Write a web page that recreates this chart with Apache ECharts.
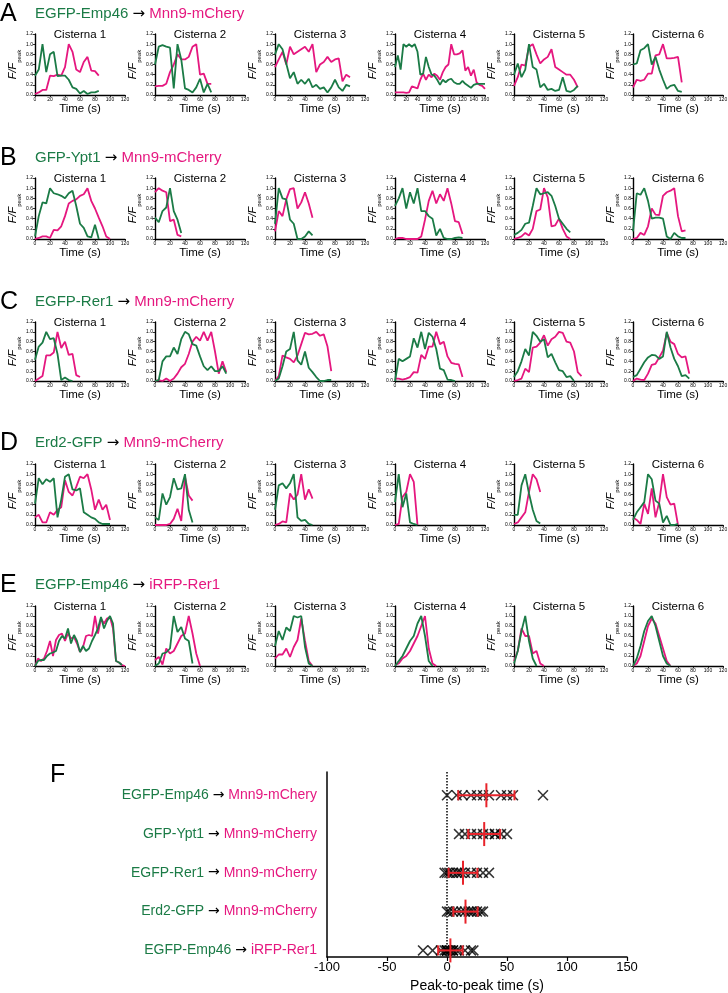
<!DOCTYPE html>
<html><head><meta charset="utf-8">
<script src="https://cdn.jsdelivr.net/npm/echarts@6/dist/echarts.min.js"></script>
<style>html,body{margin:0;padding:0;background:#fff}#c{width:728px;height:993px}</style>
</head><body><div id="c"></div>
<script>
const GREEN = '#1b7b46', MAGENTA = '#e5177f';
const FONT = "'Liberation Sans', Arial, sans-serif";
const ARROW_FONT = "'DejaVu Sans', sans-serif";

// time bases (s)
const t5 = [0,5,10,15,20,25,30,35,40,45,50,55,60,65,70,75,80,85,90,95,100,105,110,115,120,125,130,135,140,145,150,155,160];
const t4 = [0,4,8,12,16,20,24,28,32,36,40,44,48,52,56,60,64,68,72,76,80,84,88,92,96,100,104,108,112,116,120];

const panelLetters = ['A','B','C','D','E'];
const rowGreenNames = ['EGFP-Emp46','GFP-Ypt1','EGFP-Rer1','Erd2-GFP','EGFP-Emp46'];
const rowMagentaNames = ['Mnn9-mChery','Mnn9-mCherry','Mnn9-mCherry','Mnn9-mCherry','iRFP-Rer1'];
const cisternaNames = ['Cisterna 1','Cisterna 2','Cisterna 3','Cisterna 4','Cisterna 5','Cisterna 6'];
const xMaxByRow = [[120,120,120,160,120,120],[120,120,120,120,120,120],[120,120,120,120,120,120],[120,120,120,120,120,120],[120,120,120,120,120,120]];
const timeBaseByRow = [['t5','t5','t5','t5','t5','t5'],['t5','t5','t5','t5','t5','t5'],['t5','t5','t5','t5','t5','t5'],['t5','t5','t5','t5','t5','t5'],['t4','t5','t5','t5','t5','t5']];

// Row A: EGFP-Emp46 -> Mnn9-mChery
const A_green = [
 [0.38,0.5,1.0,0.45,0.8,0.85,0.37,0.38,0.38,0.3,0.15,0.12,0.03,0.08,0.02,0.05,0.05,0.08],
 [0.6,0.95,0.98,0.95,0.93,0.13,1.0,0.7,0.13,0.1,0.05,0.15,0.32,0.05,0.22,0.05],
 [0.8,1.0,0.9,0.62,0.33,0.45,0.22,0.3,0.22,0.32,0.15,0.2,0.12,0.15,0.05,0.15,0.3,0.15,0.08,0.2,0.17],
 [0.55,0.78,0.5,1.0,0.95,1.0,0.95,1.0,0.85,0.4,0.42,0.75,0.55,0.4,0.38,0.3,0.2,0.3,0.25,0.3,0.32,0.25,0.22,0.22,0.28,0.22,0.18,0.14,0.2,0.22,0.22,0.22,0.22],
 [0.4,0.62,0.35,0.5,1.0,0.55,0.5,0.15,0.22,0.1,0.12,0.08,0.1,0.35,0.08,0.06,0.1,0.18],
 [0.6,0.62,0.88,0.92,1.0,0.6,0.75,0.5,0.3,0.12,0.18,0.2,0.08,0.06]
];
const A_magenta = [
 [0.02,0.05,0.1,0.1,0.38,0.37,0.4,0.38,0.55,1.0,0.85,0.5,0.45,0.65,0.75,0.48,0.47,0.38],
 [0.17,0.18,0.18,0.22,0.45,0.6,0.8,0.7,0.7,0.75,0.95,1.0,0.4,0.42,0.22,0.22],
 [0.55,0.7,0.85,0.6,0.95,0.8,0.85,0.9,0.95,0.85,1.0,0.45,0.6,0.65,0.75,0.65,0.7,0.72,0.27,0.4,0.35],
 [0.05,0.05,0.05,0.05,0.04,0.05,0.17,0.15,0.13,0.3,0.42,0.3,0.4,0.35,0.42,0.38,0.3,0.45,0.55,0.6,1.0,0.8,0.8,0.82,0.88,0.48,0.55,0.38,0.5,0.25,0.2,0.18,0.12],
 [0.18,0.35,0.6,0.58,0.95,1.0,0.8,0.62,0.7,0.75,0.9,0.55,0.5,0.45,0.4,0.4,0.3,0.15],
 [0.15,0.3,0.28,0.3,0.42,0.42,0.78,0.8,1.0,0.72,0.72,0.73,0.75,0.25]
];
// Row B: GFP-Ypt1 -> Mnn9-mCherry
const B_green = [
 [0.05,0.45,0.72,0.7,1.0,0.9,0.88,0.85,0.8,0.9,0.95,0.65,0.3,0.22,0.05,0.03,0.28,0.0],
 [0.42,0.33,0.55,0.62,1.0,0.55,0.38,0.12],
 [0.3,1.0,0.8,0.78,0.38,0.3,0.0,0.0,0.05,0.15,0.07],
 [0.65,0.8,1.0,0.6,0.92,0.7,1.0,0.55,0.55,0.45,0.4,0.07,0.2,0.02,0.0,0.0,0.02,0.03,0.02],
 [0.08,0.12,0.18,0.3,0.32,0.65,1.0,0.88,0.9,0.92,0.85,0.65,0.4,0.3,0.2,0.13],
 [0.15,0.9,0.87,1.0,0.75,0.4,0.42,0.42,0.4,0.05,0.0,0.12,0.05,0.02,0.02]
];
const B_magenta = [
 [0.0,0.02,0.05,0.05,0.02,0.18,0.17,0.25,0.45,0.7,0.75,0.78,0.85,0.88,1.0,0.75,0.6,0.42,0.25,0.05,0.0],
 [0.92,1.0,0.95,0.92,0.35,0.38,0.08,0.05],
 [0.15,0.55,0.45,0.78,0.98,1.0,0.6,0.72,0.92,0.7,0.42],
 [0.0,0.02,0.02,0.0,0.0,0.0,0.0,0.05,0.38,0.75,0.95,0.7,0.88,0.75,1.0,0.7,0.35,0.33,0.1],
 [0.0,0.02,0.05,0.12,0.07,0.2,0.55,0.58,1.0,0.82,0.25,0.27,0.4,0.2,0.05,0.0],
 [0.0,0.02,0.12,0.08,0.25,0.6,0.48,0.47,0.85,0.92,0.95,1.0,0.45,0.15,0.17]
];
// Row C: EGFP-Rer1 -> Mnn9-mCherry
const C_green = [
 [0.43,0.7,0.78,1.0,0.85,0.87,0.55,0.02,0.07,0.02,0.0],
 [0.0,0.02,0.4,0.5,0.5,0.68,0.55,0.85,1.0,0.95,0.75,0.72,0.5,0.3,0.22,0.3,0.2,0.2,0.3,0.15],
 [0.0,0.05,0.3,0.6,0.65,1.0,0.42,0.33,0.6,0.27,0.18,0.08,0.0,0.0,0.02,0.02],
 [0.0,0.45,0.4,0.45,0.5,0.87,0.68,1.0,0.65,0.98,0.9,0.65,0.25,0.22,0.03,0.02,0.0],
 [0.08,0.2,0.4,0.65,0.52,1.0,0.92,0.8,0.85,0.48,0.55,0.38,0.22,0.2,0.08,0.1,0.0],
 [0.08,0.12,0.25,0.38,0.48,0.53,0.52,0.45,0.5,1.0,0.68,0.45,0.3,0.1,0.12,0.05]
];
const C_magenta = [
 [0.0,0.05,0.1,0.52,0.52,0.58,1.0,0.67,0.8,0.53,0.55,0.12,0.08],
 [0.0,0.02,0.0,0.05,0.0,0.05,0.15,0.28,0.35,0.55,0.8,0.9,0.82,1.0,0.82,1.0,0.6,0.15,0.4,0.18],
 [0.0,0.1,0.52,0.48,0.45,0.38,0.52,0.75,0.98,0.95,0.96,1.0,0.92,0.95,0.7,0.2],
 [0.05,0.05,0.03,0.05,0.08,0.18,0.17,0.53,0.45,0.7,0.7,1.0,0.75,0.8,0.5,0.37,0.35,0.34,0.08],
 [0.0,0.02,0.05,0.25,0.18,0.68,0.7,0.78,0.93,0.72,0.85,0.9,1.0,0.98,0.8,0.78,0.6,0.18,0.1],
 [0.0,0.05,0.03,0.02,0.15,0.33,0.35,0.48,0.62,0.98,0.8,0.75,0.55,0.48,0.5,0.15]
];
// Row D: Erd2-GFP -> Mnn9-mCherry
const D_green = [
 [0.42,0.92,0.8,0.9,0.85,0.92,0.15,0.5,0.95,1.0,0.7,0.68,0.72,0.25,0.2,0.15,0.12,0.05,0.02,0.02,0.02],
 [0.15,0.1,0.62,0.4,0.55,0.92,0.7,0.72,1.0,0.3,0.05],
 [0.3,0.78,0.82,0.72,0.82,1.0,0.15,0.08,0.1,0.02,0.0],
 [0.45,1.0,0.35,0.62,0.05,0.02,0.0],
 [0.2,0.2,0.78,1.0,0.62,0.3,0.08,0.03],
 [0.1,0.25,0.35,0.45,1.0,0.9,0.48,0.42,0.05,0.18,0.0,0.0,0.02]
];
const D_magenta = [
 [0.15,0.2,0.05,0.05,0.25,0.2,0.3,0.35,0.88,0.65,0.58,0.75,0.95,0.92,1.0,0.7,0.3,0.5,0.3,0.4,0.1],
 [0.0,0.0,0.0,0.0,0.02,0.12,0.32,0.08,0.95,0.58,0.48],
 [0.0,0.02,0.07,0.05,0.62,0.5,0.6,1.0,0.5,0.7,0.52],
 [0.0,0.02,0.55,0.65,1.0,0.85,0.0],
 [0.02,0.05,0.15,0.25,0.65,1.0,0.9,0.65],
 [0.15,0.1,0.02,0.42,0.22,0.72,0.15,0.45,1.0,0.55,0.4,0.42,0.0]
];
// Row E: EGFP-Emp46 -> iRFP-Rer1
const E_green = [
 [0.0,0.1,0.12,0.12,0.2,0.25,0.27,0.3,0.5,0.6,0.55,0.75,0.45,0.62,0.5,0.28,0.4,0.3,0.35,0.5,0.62,0.75,0.98,0.75,0.9,1.0,0.85,0.1,0.07,0.02],
 [0.0,0.05,0.25,0.27,0.35,1.0,0.68,0.78,0.55,0.5,0.05],
 [0.4,0.7,0.52,0.77,0.7,1.0,0.97,1.0,0.38,0.05,0.0],
 [0.0,0.1,0.2,0.35,0.5,0.6,0.85,1.0,0.6,0.1,0.0],
 [0.05,0.3,0.7,1.0,0.5,0.15,0.0],
 [0.0,0.15,0.4,0.7,0.9,1.0,0.8,0.5,0.2,0.05,0.0]
];
const E_magenta = [
 [0.0,0.15,0.1,0.15,0.3,0.5,0.2,0.52,0.62,0.65,0.5,0.65,0.55,0.58,0.45,0.28,0.38,0.6,0.62,0.6,1.0,0.65,0.95,0.85,0.95,0.98,0.75,0.1,0.07,0.02,0.0],
 [0.12,0.18,0.03,0.35,0.25,0.3,0.45,0.6,0.65,1.0,0.65,0.25,0.0],
 [0.15,0.23,0.23,0.35,0.18,0.38,0.52,0.95,0.5,0.1,0.0],
 [0.02,0.05,0.15,0.2,0.3,0.45,0.6,0.8,1.0,0.35,0.05,0.0],
 [0.1,0.3,0.75,0.6,0.6,0.25,0.3,0.05,0.0],
 [0.0,0.05,0.2,0.5,0.8,0.95,0.85,0.6,0.35,0.1,0.0]
];
const rowGreen = [A_green, B_green, C_green, D_green, E_green];
const rowMagenta = [A_magenta, B_magenta, C_magenta, D_magenta, E_magenta];

// Panel F: peak-to-peak times (s)
const F_green = ['EGFP-Emp46','GFP-Ypt1','EGFP-Rer1','Erd2-GFP','EGFP-Emp46'];
const F_magenta = ['Mnn9-mChery','Mnn9-mCherry','Mnn9-mCherry','Mnn9-mCherry','iRFP-Rer1'];
const F_emp46_mnn9 = [0, 8, 13, 20, 25, 30, 35, 45, 50, 55, 80];
const F_ypt1_mnn9 = [10, 15, 20, 25, 30, 35, 40, 40, 45, 50];
const F_rer1_mnn9 = [-2, 0, 2, 5, 8, 10, 12, 15, 20, 25, 30, 35];
const F_erd2_mnn9 = [0, 2, 5, 8, 12, 15, 18, 20, 22, 25, 28, 30];
const F_emp46_rer1 = [-20, -12, -5, -2, 0, 0, 0, 0, 0, 2, 3, 5, 5, 8, 10, 15, 20, 22];
const F_values = [F_emp46_mnn9, F_ypt1_mnn9, F_rer1_mnn9, F_erd2_mnn9, F_emp46_rer1];

// ---------- layout (styling only) ----------
const colLeft = [35, 155, 275, 395, 514, 633];
const rowTop = [34, 178, 322, 464, 606];
const rowH = [61, 61, 59, 61, 60];
const rowTitleY = [14, 158, 302, 443, 585];

const grids = [], xAxes = [], yAxes = [], series = [], graphics = [];
const axisLineStyle = {show: true, onZero: false, lineStyle: {color: '#000', width: 1.4}};
const tbase = {t5, t4};
const titleRich = {
  g: {fill: GREEN, font: '15px ' + FONT},
  k: {fill: '#000', font: '15px ' + ARROW_FONT},
  m: {fill: MAGENTA, font: '15px ' + FONT}
};

rowGreen.forEach((greens, r) => {
  graphics.push({type: 'text', x: 0, y: rowTitleY[r], style: {text: panelLetters[r], font: '25px ' + FONT, fill: '#000', verticalAlign: 'middle', textVerticalAlign: 'middle'}});
  graphics.push({type: 'text', x: 35, y: rowTitleY[r], style: {
    text: '{g|' + rowGreenNames[r] + '} {k|\u2192} {m|' + rowMagentaNames[r] + '}',
    font: '15px ' + FONT, fill: '#000', verticalAlign: 'middle', textVerticalAlign: 'middle', rich: titleRich
  }});
  for (let c = 0; c < 6; c++) {
    const gi = grids.length;
    grids.push({left: colLeft[c], top: rowTop[r], width: 90, height: rowH[r], outerBoundsMode: 'none', containLabel: false});
    xAxes.push({
      gridIndex: gi, type: 'value', min: 0, max: xMaxByRow[r][c], interval: 20,
      axisLine: axisLineStyle, axisTick: {show: true, length: 2, lineStyle: {color: '#000', width: 0.8}},
      axisLabel: {fontSize: 5, margin: 2, color: '#000', fontFamily: FONT, showMaxLabel: true},
      splitLine: {show: false},
      name: 'Time (s)', nameLocation: 'middle', nameGap: 8,
      nameTextStyle: {fontSize: 11.5, color: '#000', fontFamily: FONT}
    });
    yAxes.push({
      gridIndex: gi, type: 'value', min: 0, max: 1.2, interval: 0.2,
      axisLine: axisLineStyle, axisTick: {show: true, length: 2, lineStyle: {color: '#000', width: 0.8}},
      axisLabel: {fontSize: 5, margin: 2, color: '#000', fontFamily: FONT, formatter: v => v.toFixed(1)},
      splitLine: {show: false},
      name: '{a|F/F}{b|peak}', nameLocation: 'middle', nameGap: 11,
      nameTextStyle: {color: '#000', fontFamily: FONT, rich: {
        a: {fontSize: 11, fontStyle: 'italic', fontFamily: FONT, color: '#000', lineHeight: 15, verticalAlign: 'top'},
        b: {fontSize: 6, fontFamily: FONT, color: '#000', lineHeight: 7, verticalAlign: 'bottom'}
      }}
    });
    const times = tbase[timeBaseByRow[r][c]];
    const mag = rowMagenta[r][c], grn = greens[c];
    series.push({type: 'line', xAxisIndex: gi, yAxisIndex: gi, showSymbol: false, symbol: 'none',
      data: mag.map((v, i) => [times[i], v]), lineStyle: {color: MAGENTA, width: 1.8}, itemStyle: {color: MAGENTA}, silent: true});
    series.push({type: 'line', xAxisIndex: gi, yAxisIndex: gi, showSymbol: false, symbol: 'none',
      data: grn.map((v, i) => [times[i], v]), lineStyle: {color: GREEN, width: 1.8}, itemStyle: {color: GREEN}, silent: true});
    graphics.push({type: 'text', x: colLeft[c] + 45, y: rowTop[r] + 1, z: 10, style: {
      text: cisternaNames[c], font: '11.5px ' + FONT, fill: '#000',
      align: 'center', textAlign: 'center', verticalAlign: 'middle', textVerticalAlign: 'middle'}});
  }
});

// Panel F
const fg = grids.length;
grids.push({left: 327, top: 772, width: 300, height: 185, outerBoundsMode: 'none', containLabel: false});
xAxes.push({
  gridIndex: fg, type: 'value', min: -100, max: 150, interval: 50,
  axisLine: {show: true, onZero: false, lineStyle: {color: '#000', width: 1.5}},
  axisTick: {show: true, length: 4, lineStyle: {color: '#000', width: 1.2}},
  axisLabel: {fontSize: 13, color: '#000', fontFamily: FONT, margin: 4},
  splitLine: {show: false},
  name: 'Peak-to-peak time (s)', nameLocation: 'middle', nameGap: 22,
  nameTextStyle: {fontSize: 14, color: '#000', fontFamily: FONT}
});
yAxes.push({
  gridIndex: fg, type: 'value', inverse: true, min: -0.6, max: 4.17,
  axisLine: {show: true, onZero: false, lineStyle: {color: '#000', width: 1.5}},
  axisTick: {show: false},
  splitLine: {show: false},
  axisLabel: {
    customValues: [0, 1, 2, 3, 4], margin: 10, fontSize: 14, fontFamily: FONT, color: '#000',
    formatter: v => '{g|' + F_green[Math.round(v)] + '} {k|\u2192} {m|' + F_magenta[Math.round(v)] + '}',
    rich: {g: {color: GREEN, fontSize: 14, fontFamily: FONT}, k: {color: '#000', fontSize: 14, fontFamily: ARROW_FONT}, m: {color: MAGENTA, fontSize: 14, fontFamily: FONT}}
  }
});
graphics.push({type: 'text', x: 50, y: 775, style: {text: 'F', font: '25px ' + FONT, fill: '#000', verticalAlign: 'middle', textVerticalAlign: 'middle'}});

const crossPath = 'path://M0,1L1,0L5,4L9,0L10,1L6,5L10,9L9,10L5,6L1,10L0,9L4,5Z';
const scatterData = [];
F_values.forEach((arr, i) => arr.forEach(v => scatterData.push([v, i])));
series.push({
  type: 'scatter', xAxisIndex: fg, yAxisIndex: fg, symbol: crossPath, symbolSize: 11,
  itemStyle: {color: '#000'}, data: scatterData, silent: true,
  markLine: {silent: true, symbol: 'none', label: {show: false},
    lineStyle: {color: '#000', type: 'dotted', width: 1.5}, data: [{xAxis: 0}]}
});
const stats = F_values.map((arr, i) => {
  const m = arr.reduce((a, b) => a + b, 0) / arr.length;
  const sd = Math.sqrt(arr.reduce((a, b) => a + (b - m) * (b - m), 0) / (arr.length - 1));
  return [m, i, sd];
});
series.push({
  type: 'custom', xAxisIndex: fg, yAxisIndex: fg, z: 5, silent: true,
  data: stats, encode: {x: 0, y: 1},
  renderItem: (params, api) => {
    const m = api.value(0), i = api.value(1), sd = api.value(2);
    const c = api.coord([m, i]), lo = api.coord([m - sd, i]), hi = api.coord([m + sd, i]);
    const st = {stroke: '#e8232a', lineWidth: 2};
    return {type: 'group', children: [
      {type: 'line', shape: {x1: lo[0], y1: c[1], x2: hi[0], y2: c[1]}, style: st},
      {type: 'line', shape: {x1: c[0], y1: c[1] - 12, x2: c[0], y2: c[1] + 12}, style: st},
      {type: 'line', shape: {x1: lo[0], y1: c[1] - 5, x2: lo[0], y2: c[1] + 5}, style: st},
      {type: 'line', shape: {x1: hi[0], y1: c[1] - 5, x2: hi[0], y2: c[1] + 5}, style: st}
    ]};
  }
});

const chart = echarts.init(document.getElementById('c'));
chart.setOption({
  animation: false,
  backgroundColor: '#fff',
  grid: grids, xAxis: xAxes, yAxis: yAxes, series: series,
  graphic: {elements: graphics}
});
</script></body></html>
